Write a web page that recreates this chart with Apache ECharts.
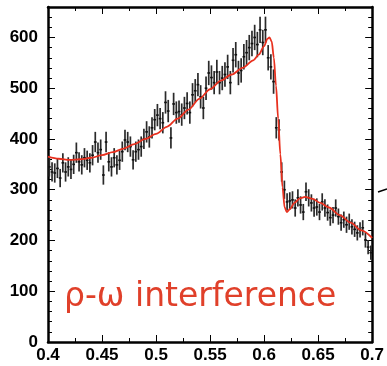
<!DOCTYPE html>
<html>
<head>
<meta charset="utf-8">
<script src="https://cdn.jsdelivr.net/npm/echarts@6/dist/echarts.min.js"></script>
<style>html,body{margin:0;padding:0;background:#fff}#c{width:387px;height:366px}</style>
</head>
<body>
<div id="c"></div>
<script>
// Histogram binning
var binStart = 0.40;
var binWidth = 0.0025;
// Bin contents (events per bin)
var counts = [
  345,335,333,342,323,353,335,345,340,350,
  373,355,349,363,358,353,368,394,373,379,
  329,394,355,345,363,349,358,375,398,394,
  385,359,375,379,385,400,414,404,422,438,
  447,440,432,472,455,402,469,452,454,448,
  461,470,452,487,495,507,483,461,500,530,
  521,511,532,511,520,527,542,511,555,566,
  530,535,562,570,580,588,600,586,615,590,
  615,560,542,513,422,418,335,300,276,278,
  280,264,284,270,256,296,284,274,264,266,
  256,276,264,255,245,250,264,247,235,241,
  231,237,227,222,215,221,225,201,187,176
];
// Error bar half-lengths
var errors = [
  19,19,19,19,18,19,19,19,19,19,
  20,19,19,19,19,19,20,20,20,20,
  19,20,19,19,19,19,19,20,20,20,
  20,19,20,20,20,20,21,21,21,21,
  22,21,21,22,22,21,22,22,22,22,
  22,22,22,23,23,23,23,22,23,24,
  24,23,24,23,24,24,24,23,24,25,
  24,24,25,25,25,25,25,25,26,25,
  26,25,25,24,21,21,19,18,17,17,
  17,17,17,17,16,18,17,17,17,17,
  16,17,17,16,16,16,17,16,16,16,
  16,16,15,15,15,15,15,15,14,14
];
// Fit curve (rho-omega interference)
var fitX = [0.400,0.410,0.420,0.430,0.440,0.450,0.460,0.470,0.480,0.490,0.500,0.510,0.520,0.530,0.540,0.550,0.560,0.570,0.580,0.590,0.595,0.600,0.603,0.605,0.607,0.609,0.611,0.613,0.615,0.617,0.619,0.621,0.624,0.628,0.633,0.638,0.645,0.652,0.660,0.670,0.680,0.690,0.700];
var fitY = [365,361,359,360,363,368,374,381,390,400,410,424,440,458,479,498,515,527,540,555,566,583,597,600,592,560,505,440,370,305,265,256,262,274,283,286,282,274,265,250,235,220,205];
var label = 'ρ-ω interference';

var pts = counts.map(function (v, i) {
  return [binStart + (i + 0.5) * binWidth, v, errors[i]];
});
var fit = fitX.map(function (x, i) { return [x, fitY[i]]; });

var chart = echarts.init(document.getElementById('c'), null, {renderer: 'canvas'});
var labelFont = {fontFamily: '"Liberation Sans", Arial, Helvetica, sans-serif', fontWeight: 'bold', fontSize: 17, color: '#000'};
function xAxisCfg(pos, showLabel) {
  return {
    type: 'value', min: 0.4, max: 0.7, interval: 0.05, position: pos,
    axisLine: {show: true, onZero: false, lineStyle: {color: '#000', width: 2.5}},
    axisTick: {show: true, inside: true, length: 7, lineStyle: {color: '#000', width: 1}},
    minorTick: {show: true, splitNumber: 2, length: 4, lineStyle: {color: '#000', width: 1}},
    splitLine: {show: false}, minorSplitLine: {show: false},
    axisLabel: Object.assign({show: showLabel, margin: 5, formatter: function (v) { return String(+v.toFixed(2)); }}, labelFont)
  };
}
function yAxisCfg(pos, showLabel) {
  return {
    type: 'value', min: 0, max: 660, interval: 100, position: pos,
    axisLine: {show: true, onZero: false, lineStyle: {color: '#000', width: 2.5}},
    axisTick: {show: true, inside: true, length: 7, lineStyle: {color: '#000', width: 1}},
    minorTick: {show: true, splitNumber: 5, length: 4, lineStyle: {color: '#000', width: 1}},
    splitLine: {show: false}, minorSplitLine: {show: false},
    axisLabel: Object.assign({show: showLabel, margin: 10, showMaxLabel: false}, labelFont)
  };
}

chart.setOption({
  animation: false,
  backgroundColor: '#fff',
  grid: {left: 48, right: 10, top: 7, bottom: 24, containLabel: false},
  xAxis: [xAxisCfg('bottom', true), xAxisCfg('top', false)],
  yAxis: [yAxisCfg('left', true), yAxisCfg('right', false)],
  series: [
    {
      type: 'custom', xAxisIndex: 0, yAxisIndex: 0, clip: true,
      data: pts,
      encode: {x: 0, y: 1},
      renderItem: function (params, api) {
        var x = api.value(0), y = api.value(1), e = api.value(2);
        var c = api.coord([x, y]);
        var t = api.coord([x, y + e]);
        var b = api.coord([x, y - e]);
        var hw = api.size([binWidth / 2, 0])[0];
        return {
          type: 'group',
          children: [
            {type: 'line', shape: {x1: c[0], y1: t[1], x2: c[0], y2: b[1]}, style: {stroke: '#2a2a2a', lineWidth: 1.7}},
            {type: 'line', shape: {x1: c[0] - hw, y1: c[1], x2: c[0] + hw, y2: c[1]}, style: {stroke: '#111', lineWidth: 1.6}}
          ]
        };
      }
    },
    {
      type: 'line', xAxisIndex: 0, yAxisIndex: 0,
      data: fit, showSymbol: false, symbol: 'none',
      smooth: 0.3, smoothMonotone: 'x',
      lineStyle: {color: '#e8301e', width: 1.8},
      z: 3
    }
  ],
  graphic: [
    {type: 'text', left: 64, top: 281, z: 10,
     style: {text: label, fontFamily: '"DejaVu Sans", sans-serif', fontSize: 33, fill: '#e0402a'}},
    {type: 'line', z: 10, shape: {x1: 378, y1: 192, x2: 387, y2: 189}, style: {stroke: '#000', lineWidth: 1.5}}
  ]
});
</script>
</body>
</html>
